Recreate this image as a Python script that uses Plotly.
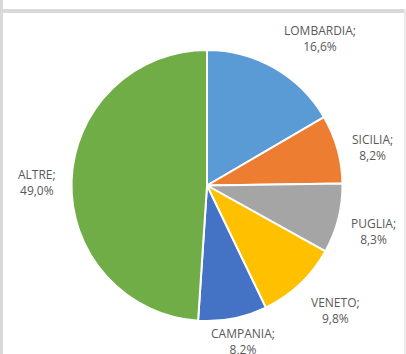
import plotly.graph_objects as go

# Regional shares (%)
regions = ["LOMBARDIA", "SICILIA", "PUGLIA", "VENETO", "CAMPANIA", "ALTRE"]
shares = [16.6, 8.2, 8.3, 9.8, 8.2, 49.0]
colors = ["#5B9BD5", "#ED7D31", "#A5A5A5", "#FFC000", "#4472C4", "#70AD47"]

W, H = 406, 354

# Pie geometry in pixels
cx, cy, r = 207, 185.5, 135.5

fig = go.Figure(go.Pie(
    labels=regions,
    values=shares,
    sort=False,
    direction="clockwise",
    rotation=0,
    marker=dict(colors=colors, line=dict(color="white", width=2)),
    textinfo="none",
    hoverinfo="label+percent",
    domain=dict(x=[(cx - r) / W, (cx + r) / W],
                y=[1 - (cy + r) / H, 1 - (cy - r) / H]),
    showlegend=False,
))

# Label anchor points (pixel centres of the two-line labels)
label_pos = {
    "LOMBARDIA": (320, 38),
    "SICILIA": (372, 147),
    "PUGLIA": (373, 231),
    "VENETO": (335, 310),
    "CAMPANIA": (243, 341),
    "ALTRE": (37, 183),
}

for name, val in zip(regions, shares):
    px, py = label_pos[name]
    fig.add_annotation(
        x=px / W, y=1 - py / H, xref="paper", yref="paper",
        text=f"{name};<br>{val:.1f}%".replace(".", ","),
        showarrow=False, xanchor="center", yanchor="middle",
        align="center",
        font=dict(family="Open Sans", size=12, color="#595959"),
    )

# Grey frame: top band, left strip, thin right edge
fig.add_shape(type="rect", xref="paper", yref="paper",
              x0=0, x1=1, y0=1 - 13 / H, y1=1 - 9 / H,
              fillcolor="#D9D9D9", line_width=0, layer="below")
fig.add_shape(type="rect", xref="paper", yref="paper",
              x0=0, x1=3 / W, y0=0, y1=1,
              fillcolor="#D9D9D9", line_width=0, layer="below")
fig.add_shape(type="rect", xref="paper", yref="paper",
              x0=1 - 2 / W, x1=1, y0=0, y1=1 - 9 / H,
              fillcolor="#EBEBEB", line_width=0, layer="below")

fig.update_layout(
    width=W, height=H,
    margin=dict(l=0, r=0, t=0, b=0),
    paper_bgcolor="white",
    plot_bgcolor="white",
)

fig.write_html("out.html")
